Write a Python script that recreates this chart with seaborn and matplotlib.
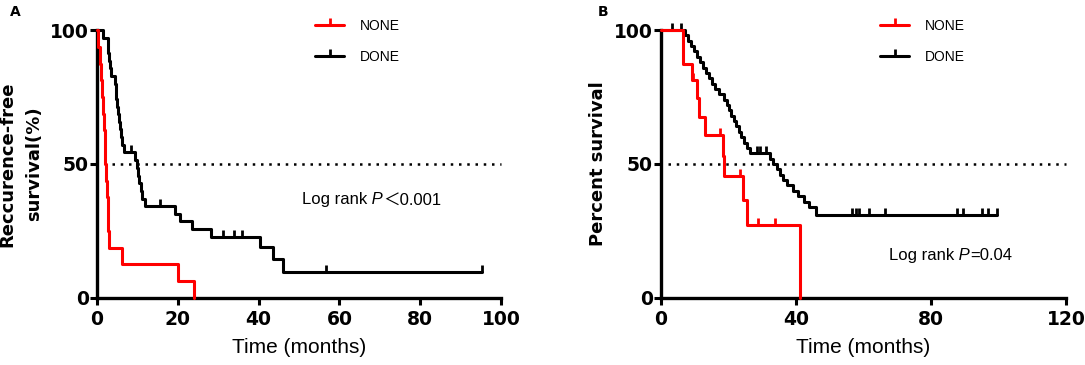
import numpy as np
import matplotlib
matplotlib.use("Agg")
import matplotlib.pyplot as plt
from matplotlib.lines import Line2D
import seaborn as sns

# Panel A: recurrence-free survival (%), time in months
a_none_t = [0, 0.3, 0.7, 1.0, 1.3, 1.5, 1.7, 1.9, 2.1, 2.3, 2.5, 2.6, 2.8, 3.0, 6.1, 20.1, 24.0]
a_none_s = [100, 93.75, 87.5, 81.25, 75, 68.75, 62.5, 56.25, 50, 43.75, 37.5, 31.25, 25, 18.75, 12.5, 6.25, 0]
a_none_c = []

a_done_t = [0, 1.5, 2.6, 2.8, 3.0, 3.2, 3.5, 4.4, 4.6, 4.8, 5.0, 5.2, 5.4, 5.7, 6.0, 6.3, 6.8,
            9.4, 9.8, 10.1, 10.4, 10.8, 11.2, 11.8, 19.4, 20.5, 23.6, 28.2, 40.3, 43.5, 46.1, 95.2]
a_done_s = [100, 97.1, 94.3, 91.4, 88.6, 85.7, 82.9, 80.0, 77.1, 74.3, 71.4, 68.6, 65.7, 62.9, 60.0, 57.1, 54.3,
            51.4, 48.6, 45.7, 42.9, 40.0, 37.1, 34.3, 31.4, 28.6, 25.7, 22.9, 19.0, 14.6, 9.7, 9.7]
a_done_c = [8.3, 15.7, 31.3, 33.9, 36.0, 56.7, 95.2]

# Panel B: overall survival (%), time in months
b_none_t = [0, 6.6, 9.1, 10.8, 11.2, 13.0, 18.3, 18.6, 24.4, 25.4, 41.2]
b_none_s = [100, 87.5, 81.3, 74.5, 67.6, 60.8, 53.0, 45.5, 36.5, 27.2, 0]
b_none_c = [9.6, 17.5, 23.4, 28.8, 33.8]

b_done_t = [0, 7.1, 8.0, 8.8, 9.9, 10.8, 11.6, 12.4, 13.2, 14.3, 15.2, 16.0, 17.1, 18.6, 19.6, 20.2,
            20.8, 21.5, 22.3, 23.0, 23.8, 24.6, 25.4, 26.4, 32.3, 33.2, 34.3, 35.3, 36.2, 37.2, 39.2,
            40.7, 42.5, 44.0, 46.0, 99.5]
b_done_s = [100, 98, 96, 94, 92, 90, 88, 86, 84, 82, 80, 78, 76, 74, 72, 70,
            68, 66, 64, 62, 60, 58, 56, 54, 52, 50, 48, 46, 44, 42, 40,
            38, 36, 34, 31, 31]
b_done_c = [3.2, 5.9, 28.3, 29.3, 31.0, 56.5, 57.8, 58.8, 61.5, 66.4, 87.6, 89.6, 95.0, 97.0, 99.5]

group_labels = ["NONE", "DONE"]
group_colors = ["#ff0000", "#000000"]

sns.set_style("ticks")
plt.rcParams["font.family"] = ["Liberation Sans", "DejaVu Sans"]
plt.rcParams["text.color"] = "black"
plt.rcParams["axes.labelcolor"] = "black"
plt.rcParams["xtick.color"] = "black"
plt.rcParams["ytick.color"] = "black"

LW = 2.2


def surv_at(times, surv, cens):
    """Survival value of the step curve at each censoring time"""
    idx = np.searchsorted(np.array(times), np.array(cens), side="right") - 1
    return np.array(surv)[idx] if len(cens) else np.array([])


def draw_panel(ax, curves, xmax, xticks, ylabel, ref_start, logrank_xy, logrank_val):
    # dotted 50% reference line
    ax.plot([ref_start, xmax], [50, 50], color="black", lw=1.8,
            linestyle=(0, (1, 2.3)), clip_on=False, zorder=1)
    # DONE first so NONE sits on top
    for (t, s, c), color in reversed(list(zip(curves, group_colors))):
        sns.lineplot(x=t, y=s, drawstyle="steps-post", color=color, lw=LW,
                     ax=ax, legend=False, clip_on=False, zorder=3)
        ax.plot(c, surv_at(t, s, c), linestyle="none", marker=2, markersize=5,
                markeredgewidth=2, color=color, clip_on=False, zorder=3)

    ax.set_xlim(0, xmax)
    ax.set_ylim(0, 100)
    ax.set_xticks(xticks)
    ax.set_yticks([0, 50, 100])
    ax.tick_params(direction="out", length=5, width=2.2, color="black",
                   labelcolor="black", labelsize=13.5)
    ax.tick_params(axis="y", pad=1)
    ax.tick_params(axis="x", pad=4)
    for lab in ax.get_xticklabels() + ax.get_yticklabels():
        lab.set_fontweight("bold")
        lab.set_family("DejaVu Sans")
    for side in ["left", "bottom"]:
        ax.spines[side].set_linewidth(2.4)
        ax.spines[side].set_color("black")
    sns.despine(ax=ax)

    ax.set_xlabel("Time (months)", fontsize=15, labelpad=6)
    ax.set_ylabel(ylabel, fontsize=13, fontweight="bold", family="DejaVu Sans",
                  linespacing=1.6, labelpad=5)

    # "Log rank P..." with italic P
    t1 = ax.text(logrank_xy[0], logrank_xy[1], "Log rank", fontsize=12, va="center", ha="left")
    t2 = ax.annotate(" P", xy=(1, 0), xycoords=t1, fontsize=12, style="italic",
                     va="bottom", ha="left")
    ax.annotate(logrank_val, xy=(1, 0), xycoords=t2, fontsize=12, va="bottom", ha="left",
                family=["Liberation Sans", "Noto Sans CJK SC"])


def add_legend(fig, ax, x0, y0):
    handles = [Line2D([0], [0], color=c, lw=LW, marker=2, markersize=5, markeredgewidth=2)
               for c in group_colors]
    ax.legend(handles, group_labels, loc="upper left", bbox_to_anchor=(x0, y0),
              bbox_transform=fig.transFigure, frameon=False, fontsize=10,
              handlelength=2.1, handletextpad=1.1, labelspacing=1.25,
              borderpad=0, borderaxespad=0, numpoints=1)


fig = plt.figure(figsize=(10.85, 3.65), dpi=100)
ax_a = fig.add_axes([0.0894, 0.1836, 0.3724, 0.7342])
ax_b = fig.add_axes([0.6092, 0.1836, 0.3733, 0.7342])

draw_panel(ax_a,
           [(a_none_t, a_none_s, a_none_c), (a_done_t, a_done_s, a_done_c)],
           100, [0, 20, 40, 60, 80, 100], "Reccurence-free\nsurvival(%)",
           3.6, (50.7, 36.6), "\uff1c0.001")
draw_panel(ax_b,
           [(b_none_t, b_none_s, b_none_c), (b_done_t, b_done_s, b_done_c)],
           120, [0, 40, 80, 120], "Percent survival",
           2.0, (67.6, 16.0), "=0.04")

add_legend(fig, ax_a, 315 / 1085, 1 - 19 / 365)
add_legend(fig, ax_b, 880 / 1085, 1 - 19 / 365)

fig.text(10 / 1085, 1 - 12 / 365, "A", fontsize=10, fontweight="bold",
         family="DejaVu Sans", va="center", ha="left")
fig.text(598 / 1085, 1 - 12 / 365, "B", fontsize=10, fontweight="bold",
         family="DejaVu Sans", va="center", ha="left")

fig.savefig("out.png", dpi=100)
